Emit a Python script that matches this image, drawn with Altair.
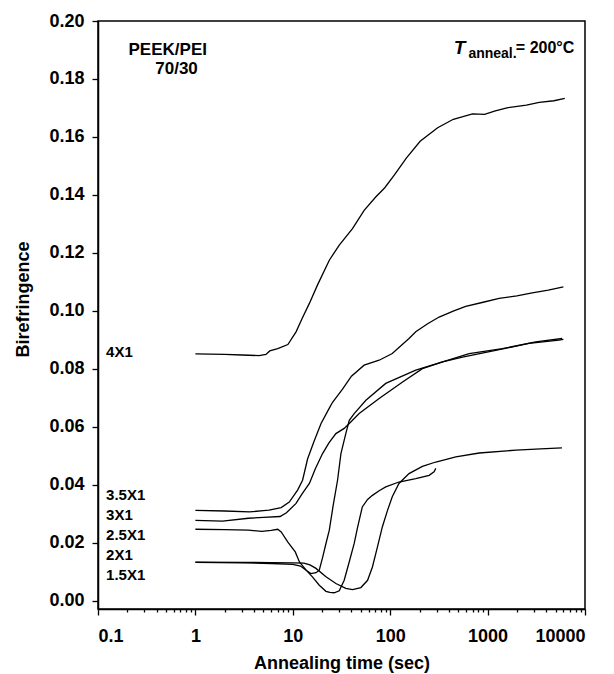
import altair as alt
import pandas as pd

# ---- data ----
t_4x1 = [1, 2, 3, 4.5, 5.3, 5.8, 7, 8.9, 10.8, 12.5, 14.8, 17.9, 23.7, 30, 41, 54, 71, 88, 111, 147, 203, 307, 445, 700, 931, 1200, 1620, 2500, 3390, 4800, 6200]
b_4x1 = [0.0852, 0.0850, 0.0848, 0.0846, 0.0850, 0.0862, 0.0870, 0.0884, 0.0928, 0.0975, 0.1026, 0.1089, 0.1175, 0.1227, 0.1284, 0.1347, 0.1393, 0.1425, 0.1470, 0.1528, 0.1585, 0.1632, 0.1661, 0.1680, 0.1678, 0.1690, 0.1701, 0.1710, 0.1719, 0.1725, 0.1733]

t_35x1 = [1, 2, 3.6, 5, 5.7, 7.6, 9.2, 11.2, 12.6, 14.2, 16.5, 19.5, 23.7, 25.6, 32.4, 40, 54, 77, 105, 156, 183, 240, 318, 450, 596, 900, 1314, 2000, 2870, 4200, 6000]
b_35x1 = [0.0312, 0.0310, 0.0307, 0.0311, 0.0313, 0.0322, 0.0341, 0.0382, 0.0416, 0.0490, 0.0550, 0.0612, 0.0665, 0.0685, 0.0730, 0.0775, 0.0813, 0.0830, 0.0853, 0.0905, 0.0928, 0.0955, 0.0979, 0.1000, 0.1016, 0.1030, 0.1043, 0.1052, 0.1062, 0.1072, 0.1083]

t_3x1 = [1, 1.9, 3.5, 5, 7.4, 8.6, 10.8, 12.5, 14.8, 17, 20.2, 23.5, 27.7, 33.7, 38, 48, 77, 134, 214, 345, 552, 1210, 2660, 5400, 6000]
b_3x1 = [0.0278, 0.0275, 0.0285, 0.0288, 0.0291, 0.0304, 0.0336, 0.0370, 0.0405, 0.0455, 0.0508, 0.0545, 0.0577, 0.0595, 0.0612, 0.0646, 0.0698, 0.0755, 0.0801, 0.0824, 0.0841, 0.0864, 0.0888, 0.0899, 0.0902]

t_25x1 = [1, 2, 3.5, 4.8, 6, 7, 7.6, 8.9, 10.6, 11.7, 13.7, 15.3, 17.3, 18.7, 20.3, 21.9, 23.7, 26, 28.8, 31.2, 35, 38, 42.7, 56.3, 90, 183, 345, 647, 1420, 3120, 5830]
b_25x1 = [0.0247, 0.0246, 0.0244, 0.0240, 0.0243, 0.0247, 0.0238, 0.0203, 0.0169, 0.0134, 0.0106, 0.0094, 0.0097, 0.0106, 0.0152, 0.0198, 0.0244, 0.0330, 0.0416, 0.0508, 0.0577, 0.0623, 0.0646, 0.0692, 0.0750, 0.0796, 0.0824, 0.0853, 0.0870, 0.0893, 0.0905]

t_2x1 = [1, 3, 6, 10, 12, 13.7, 15.9, 18.7, 21.9, 24, 26.6, 30, 33.7, 38, 42.7, 46, 51.7, 58.6, 65.7, 77, 90, 123, 183, 251, 282, 294]
b_2x1 = [0.0133, 0.0131, 0.0129, 0.0126, 0.0120, 0.0106, 0.0083, 0.0054, 0.0033, 0.0029, 0.0028, 0.0035, 0.0071, 0.0135, 0.0198, 0.0250, 0.0324, 0.0350, 0.0364, 0.0380, 0.0393, 0.0410, 0.0422, 0.0433, 0.0445, 0.0457]

t_15x1 = [1, 3, 6, 10, 13, 15, 17.3, 21.9, 27.7, 35, 41, 50, 58.6, 65.7, 74, 83, 94, 105, 123, 156, 214, 294, 472, 820, 1960, 3500, 5800]
b_15x1 = [0.0134, 0.0133, 0.0132, 0.0131, 0.0130, 0.0124, 0.0112, 0.0083, 0.0060, 0.0043, 0.0039, 0.0046, 0.0071, 0.0117, 0.0186, 0.0255, 0.0313, 0.0359, 0.0405, 0.0439, 0.0464, 0.0479, 0.0497, 0.0510, 0.0520, 0.0524, 0.0528]

series_names = ["4X1", "3.5X1", "3X1", "2.5X1", "2X1", "1.5X1"]
series_t = [t_4x1, t_35x1, t_3x1, t_25x1, t_2x1, t_15x1]
series_b = [b_4x1, b_35x1, b_3x1, b_25x1, b_2x1, b_15x1]

# curve labels (left side)
label_text = ["4X1", "3.5X1", "3X1", "2.5X1", "2X1", "1.5X1"]
label_t = [0.121, 0.121, 0.121, 0.121, 0.121, 0.121]
label_b = [0.0858, 0.0364, 0.0295, 0.0227, 0.0158, 0.0089]

x_major = [0.1, 1, 10, 100, 1000, 10000]
x_minor = [m * d for d in [0.1, 1, 10, 100, 1000] for m in range(2, 10)]
y_ticks = [0.00, 0.02, 0.04, 0.06, 0.08, 0.10, 0.12, 0.14, 0.16, 0.18, 0.20]

FONT = "Liberation Sans"

rows = []
for name, ts, bs in zip(series_names, series_t, series_b):
    for i, (t, b) in enumerate(zip(ts, bs)):
        rows.append({"series": name, "t": t, "b": b, "i": i})
df = pd.DataFrame(rows)

lab_df = pd.DataFrame({"text": label_text, "t": label_t, "b": label_b})
minor_df = pd.DataFrame({"t": x_minor})

xscale = alt.Scale(type="log", domain=[0.1, 10000], nice=False)
yscale = alt.Scale(domain=[-0.0028, 0.20], nice=False, zero=False)

y_axis = alt.Axis(values=y_ticks, format=".2f", title="Birefringence",
                  tickSize=6, labelPadding=8, titlePadding=16, titleY=278)

lines = alt.Chart(df).mark_line(color="black", strokeWidth=1.3).encode(
    x=alt.X("t:Q", scale=xscale,
            axis=alt.Axis(values=x_major, title="Annealing time (sec)", orient="bottom",
                          labelExpr="datum.value >= 1 ? format(datum.value, 'd') : format(datum.value, '.1f')",
                          tickSize=6, labelPadding=12, titlePadding=9)),
    y=alt.Y("b:Q", scale=yscale, axis=y_axis),
    detail="series:N",
    order="i:Q",
)

minor = alt.Chart(minor_df).mark_point(opacity=0).encode(
    x=alt.X("t:Q", scale=xscale,
            axis=alt.Axis(values=x_minor, labels=False, title=None, domain=False,
                          orient="bottom", tickSize=3)),
)


def text_layer(data, size, style="normal", align="left"):
    return alt.Chart(data).mark_text(align=align, baseline="middle", font=FONT,
                                     fontWeight="bold", fontStyle=style,
                                     fontSize=size, color="black").encode(
        x=alt.X("t:Q", scale=xscale, axis=None),
        y=alt.Y("b:Q", scale=yscale, axis=y_axis),
        text="text:N")


labels = text_layer(lab_df, 15)

ann_df = pd.DataFrame({"text": ["PEEK/PEI", "70/30"], "t": [0.52, 0.64], "b": [0.1900, 0.1836]})
ann = text_layer(ann_df, 17, align="center")

t_df = pd.DataFrame({"text": ["T"], "t": [450], "b": [0.1908]})
tmark = text_layer(t_df, 19, style="italic")

sub_df = pd.DataFrame({"text": ["anneal."], "t": [635], "b": [0.1885]})
submark = text_layer(sub_df, 14)

eq_df = pd.DataFrame({"text": ["= 200°C"], "t": [1950], "b": [0.1908]})
eqmark = text_layer(eq_df, 16)

chart = alt.layer(lines, minor, labels, ann, tmark, submark, eqmark).resolve_axis(
    x="independent"
).properties(
    width=487, height=588,
    autosize=alt.AutoSizeParams(type="none"),
    padding={"left": 98, "top": 21, "right": 29, "bottom": 65},
).configure_view(
    stroke="black", strokeWidth=1.5
).configure_axis(
    grid=False,
    domainColor="black", domainWidth=1.5,
    tickColor="black", tickWidth=1.3,
    labelFont=FONT, labelFontWeight="bold", labelFontSize=18, labelColor="black",
    titleFont=FONT, titleFontWeight="bold", titleFontSize=18, titleColor="black",
)

chart.save("out.html", embed_options={"renderer": "svg", "actions": False})
